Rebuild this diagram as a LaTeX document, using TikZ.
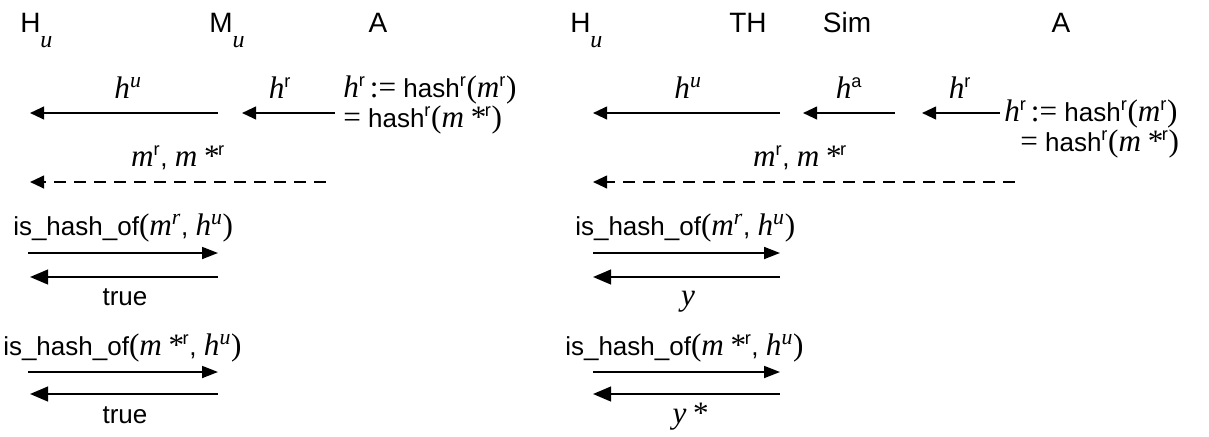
\documentclass[tikz,border=0pt]{standalone}
\usepackage{fontspec}
\setmainfont{Liberation Sans}
\newfontfamily\tms[Scale=1.2]{Liberation Serif}
\usetikzlibrary{arrows.meta}
\newcommand{\vi}[1]{{\tms\itshape #1}}
\newcommand{\up}[1]{\textsuperscript{#1}}
\newcommand{\tm}[1]{{\tms #1}}
\newcommand{\lowsub}[1]{\raisebox{-0.55em}{\fontsize{15}{18}\selectfont #1}}
\begin{document}
\begin{tikzpicture}[x=0.75pt,y=-0.75pt,
  lbl/.style={inner sep=0pt,anchor=base,font=\fontsize{19.5}{24}\selectfont},
  lbll/.style={lbl,anchor=base west},
  hdr/.style={lbl,font=\fontsize{21}{24}\selectfont},
  hdrl/.style={hdr,anchor=base west},
  msg/.style={line width=1.5pt,-{Triangle[length=10.5pt,width=9.5pt]}},
  call/.style={line width=1.3pt,-{Triangle[length=12pt,width=9pt]}},
  ret/.style={line width=1.6pt,-{Triangle[length=13.5pt,width=11pt]}},
  dmsg/.style={msg,dash pattern=on 9pt off 6pt}]
\useasboundingbox (0,0) rectangle (1209,436);
% ---------- left panel ----------
\node[hdrl] (h1) at (20,32) {H\lowsub{\vi{u}}};
\node[hdrl] (m1) at (209,32) {M\lowsub{\vi{u}}};
\node[hdr] (a1) at (378,32) {A};
\coordinate (L1) at (30,0);
\coordinate (L2) at (218,0);
\coordinate (L3) at (242,0);
\coordinate (L4) at (335,0);
\node[lbl] (lhu) at (128,98) {\vi{h}\up{\vi{u}}};
\node[lbl] (lhr) at (280,98) {\vi{h}\up{r}};
\node[lbll] (ldef1) at (343,97) {\vi{h}\up{r}\,\tm{:=} hash\up{r}\tm{(}\vi{m}\up{r}\tm{)}};
\node[lbll] (ldef2) at (343,127) {\tm{=} hash\up{r}\tm{(}\vi{m\,*}\up{r}\tm{)}};
\draw[msg] (L2|-0,113) -- (L1|-0,113);
\draw[msg] (L4|-0,113) -- (L3|-0,113);
\node[lbl] (lmm) at (178,166) {\vi{m}\up{r}, \vi{m\,*}\up{r}};
\draw[dmsg] (326,182) coordinate (ld) -- (L1|-ld);
\node[lbll] (lq1) at (13,235) {is\_hash\_of\tm{(}\vi{m}\up{\vi{r}}, \vi{h}\up{\vi{u}}\tm{)}};
\draw[call] (28,253) coordinate (lc1) -- (L2|-lc1);
\draw[ret] (218,277) coordinate (lr1) -- (L1|-lr1);
\node[lbl] (lt1) at (125,305) {true};
\node[lbll] (lq2) at (3,355) {is\_hash\_of\tm{(}\vi{m\,*}\up{r}, \vi{h}\up{\vi{u}}\tm{)}};
\draw[call] (28,372) coordinate (lc2) -- (L2|-lc2);
\draw[ret] (218,394) coordinate (lr2) -- (L1|-lr2);
\node[lbl] (lt2) at (125,423) {true};
% ---------- right panel ----------
\node[hdrl] (h2) at (570,32) {H\lowsub{\vi{u}}};
\node[hdr] (th) at (748,32) {TH};
\node[hdr] (sim) at (847,32) {Sim};
\node[hdr] (a2) at (1061,32) {A};
\coordinate (R1) at (593,0);
\coordinate (R2) at (780,0);
\coordinate (R3) at (803,0);
\coordinate (R4) at (895,0);
\coordinate (R5) at (922,0);
\coordinate (R6) at (1000,0);
\node[lbl] (rhu) at (688,98) {\vi{h}\up{\vi{u}}};
\node[lbl] (rha) at (849,98) {\vi{h}\up{a}};
\node[lbl] (rhr) at (960,98) {\vi{h}\up{r}};
\draw[msg] (R2|-0,113) -- (R1|-0,113);
\draw[msg] (R4|-0,113) -- (R3|-0,113);
\draw[msg] (R6|-0,113) -- (R5|-0,113);
\node[lbll] (rdef1) at (1004,121) {\vi{h}\up{r}\,\tm{:=} hash\up{r}\tm{(}\vi{m}\up{r}\tm{)}};
\node[lbll] (rdef2) at (1020,151) {\tm{=} hash\up{r}\tm{(}\vi{m\,*}\up{r}\tm{)}};
\node[lbl] (rmm) at (800,166) {\vi{m}\up{r}, \vi{m\,*}\up{r}};
\draw[dmsg] (1015,182) coordinate (rd) -- (R1|-rd);
\node[lbll] (rq1) at (575,235) {is\_hash\_of\tm{(}\vi{m}\up{\vi{r}}, \vi{h}\up{\vi{u}}\tm{)}};
\draw[call] (593,253) coordinate (rc1) -- (R2|-rc1);
\draw[ret] (780,277) coordinate (rr1) -- (R1|-rr1);
\node[lbl] (ry1) at (688,305) {\vi{y}};
\node[lbll] (rq2) at (565,355) {is\_hash\_of\tm{(}\vi{m\,*}\up{r}, \vi{h}\up{\vi{u}}\tm{)}};
\draw[call] (593,372) coordinate (rc2) -- (R2|-rc2);
\draw[ret] (780,394) coordinate (rr2) -- (R1|-rr2);
\node[lbl] (ry2) at (690,423) {\vi{y\,*}};
\end{tikzpicture}
\end{document}
